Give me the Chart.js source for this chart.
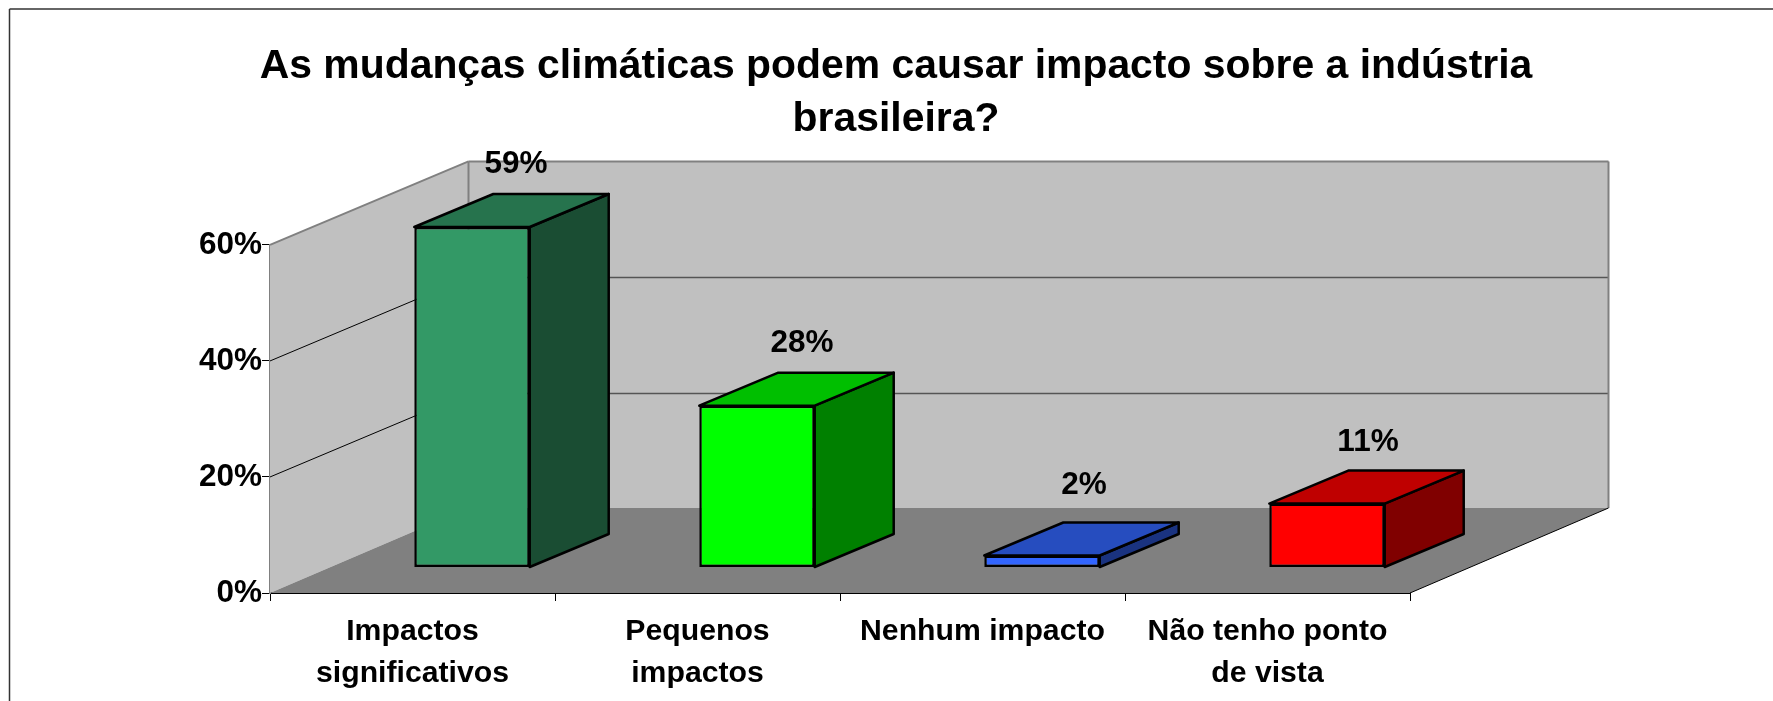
<!DOCTYPE html>
<html>
<head>
<meta charset="utf-8">
<title>Mudanças climáticas</title>
<script src="https://cdn.jsdelivr.net/npm/chart.js@4"></script>
<style>
    html, body { margin: 0; padding: 0; background: #fff; overflow: hidden; }
    canvas { display: block; }
</style>
</head>
<body>
<canvas id="myChart" width="1773" height="701"></canvas>
<script>
// Data
const titleLines = ['As mudanças climáticas podem causar impacto sobre a indústria', 'brasileira?'];
const categories = [['Impactos', 'significativos'], ['Pequenos', 'impactos'], 'Nenhum impacto', ['Não tenho ponto', 'de vista']];
const values = [59, 28, 2, 11];
const tickValues = [0, 20, 40, 60];

// Bar faces
const frontColors = ['#339966', '#00ff00', '#3366ff', '#ff0000'];
const topColors = ['#26734d', '#00bf00', '#264dbf', '#bf0000'];
const sideColors = ['#1a4d33', '#008000', '#1a3380', '#800000'];

// Fake 3D settings (px)
const wallDepth = { x: 198.5, y: -83.5, floorY: -85 };
const barShift = { x: 59.5, y: -26 };
const barDepth = { x: 79, y: -33 };
const labelShift = [[44, -63], [45, -62], [42, -70], [41, -61]];
const fontName = '"Liberation Sans", Arial, sans-serif';

function polygon(ctx, points, fill, stroke, width) {
    ctx.beginPath();
    points.forEach((p, i) => i ? ctx.lineTo(p[0], p[1]) : ctx.moveTo(p[0], p[1]));
    ctx.closePath();
    if (fill) {
        ctx.fillStyle = fill;
        ctx.fill();
    }
    if (stroke) {
        ctx.strokeStyle = stroke;
        ctx.lineWidth = width;
        ctx.lineJoin = 'round';
        ctx.stroke();
    }
}

function line(ctx, x1, y1, x2, y2, color, width) {
    ctx.beginPath();
    ctx.moveTo(x1, y1);
    ctx.lineTo(x2, y2);
    ctx.strokeStyle = color;
    ctx.lineWidth = width;
    ctx.stroke();
}

// Outer frame, only left and top are visible in the picture
const framePlugin = {
    id: 'frame',
    beforeDraw(chart) {
        const ctx = chart.ctx;
        ctx.save();
        ctx.fillStyle = '#fff';
        ctx.fillRect(0, 0, chart.width, chart.height);
        line(ctx, 9.5, chart.height, 9.5, 9, '#333', 1.5);
        line(ctx, 9.5, 9, chart.width, 9, '#333', 1.5);
        ctx.restore();
    }
};

// Walls and floor, built on the real scales
const wallsPlugin = {
    id: 'walls',
    beforeDatasetsDraw(chart) {
        const ctx = chart.ctx;
        const x = chart.scales.x;
        const y = chart.scales.y;
        const left = x.left, right = x.right;
        const top = y.getPixelForValue(60), bottom = y.getPixelForValue(0);
        const dx = wallDepth.x, dy = wallDepth.y, fy = wallDepth.floorY;
        ctx.save();
        // left wall
        polygon(ctx, [[left, top], [left + dx, top + dy], [left + dx, bottom + fy], [left, bottom]], '#c0c0c0');
        // back wall
        polygon(ctx, [[left + dx, top + dy], [right + dx, top + dy], [right + dx, bottom + fy], [left + dx, bottom + fy]], '#c0c0c0');
        // floor
        polygon(ctx, [[left, bottom], [right, bottom], [right + dx, bottom + fy], [left + dx, bottom + fy]], '#808080');
        tickValues.forEach(v => {
            if (v === 0 || v === 60) return;
            const py = y.getPixelForValue(v);
            line(ctx, left, py, left + dx, py + dy, '#000', 1);
            line(ctx, left + dx, py + dy, right + dx, py + dy, '#555', 1.5);
        });
        // wall edges
        line(ctx, left, top, left + dx, top + dy, '#808080', 2);
        line(ctx, left + dx, top + dy, right + dx, top + dy, '#808080', 2);
        line(ctx, left + dx, top + dy, left + dx, bottom + fy, '#808080', 2);
        line(ctx, right + dx, top + dy, right + dx, bottom + fy, '#808080', 2);
        line(ctx, right, bottom, right + dx, bottom + fy, '#000', 1);
        ctx.restore();
    }
};

// Side and top faces come from the bar elements, the front face is the library's own bar
const barsPlugin = {
    id: 'bars3d',
    beforeDatasetDraw(chart, args) {
        const ctx = chart.ctx;
        ctx.save();
        args.meta.data.forEach((bar, i) => {
            const p = bar.getProps(['x', 'y', 'base', 'width']);
            const l = p.x - p.width / 2 + barShift.x;
            const r = p.x + p.width / 2 + barShift.x;
            const t = p.y + barShift.y;
            const b = p.base + barShift.y;
            polygon(ctx, [[r, t], [r + barDepth.x, t + barDepth.y], [r + barDepth.x, b + barDepth.y], [r, b]], sideColors[i], '#000', 2.5);
            polygon(ctx, [[l, t], [l + barDepth.x, t + barDepth.y], [r + barDepth.x, t + barDepth.y], [r, t]], topColors[i], '#000', 2.5);
        });
        ctx.translate(barShift.x, barShift.y);
    },
    afterDatasetDraw(chart) {
        chart.ctx.restore();
    },
    afterDatasetsDraw(chart) {
        const ctx = chart.ctx;
        const meta = chart.getDatasetMeta(0);
        ctx.save();
        ctx.font = 'bold 31.5px ' + fontName;
        ctx.fillStyle = '#000';
        ctx.textAlign = 'center';
        ctx.textBaseline = 'middle';
        meta.data.forEach((bar, i) => {
            const p = bar.getProps(['x', 'y']);
            ctx.fillText(values[i] + '%', p.x + barShift.x + labelShift[i][0], p.y + barShift.y + labelShift[i][1]);
        });
        ctx.restore();
    }
};

// Create chart
const ctx = document.getElementById('myChart').getContext('2d');
const myChart = new Chart(ctx, {
    type: 'bar',
    data: {
        labels: categories,
        datasets: [{
            data: values,
            yAxisID: 'yBars',
            backgroundColor: frontColors,
            borderColor: '#000',
            borderWidth: 2.5,
            borderSkipped: false,
            barPercentage: 0.405,
            categoryPercentage: 1,
            clip: false
        }]
    },
    plugins: [framePlugin, wallsPlugin, barsPlugin],
    options: {
        responsive: false,
        animation: false,
        layout: { padding: { left: 19, top: 0, right: 0, bottom: 0 } },
        plugins: {
            legend: { display: false },
            tooltip: { enabled: false },
            title: {
                display: true,
                text: titleLines,
                color: '#000',
                font: { family: fontName, size: 40.9, weight: 'bold', lineHeight: 1.3 },
                padding: { top: 40, bottom: 98.6 }
            }
        },
        scales: {
            x: {
                z: 1,
                grid: { offset: true, drawOnChartArea: false, color: '#000', lineWidth: 1, tickLength: 8 },
                border: { color: '#000', width: 2 },
                ticks: {
                    color: '#000',
                    padding: 10,
                    maxRotation: 0,
                    autoSkip: false,
                    font: { family: fontName, size: 30.2, weight: 'bold', lineHeight: 1.39 }
                },
                afterFit(scale) { scale.height = 108; }
            },
            y: {
                z: 1,
                min: 0,
                max: 60,
                grid: { drawOnChartArea: false, color: '#000', lineWidth: 1, tickLength: 8 },
                border: { color: '#808080', width: 2 },
                ticks: {
                    stepSize: 20,
                    color: '#000',
                    padding: 0,
                    font: { family: fontName, size: 31.5, weight: 'bold' },
                    callback: v => v + '%'
                },
                afterFit(scale) { scale.width = 251; }
            },
            // bars sit deeper in the picture, so they scale a bit smaller than the front axis
            yBars: {
                position: 'right',
                min: 0,
                max: 60.4,
                grid: { display: false },
                border: { display: false },
                ticks: { display: false },
                afterFit(scale) { scale.width = 363; }
            }
        }
    }
});
</script>
</body>
</html>
